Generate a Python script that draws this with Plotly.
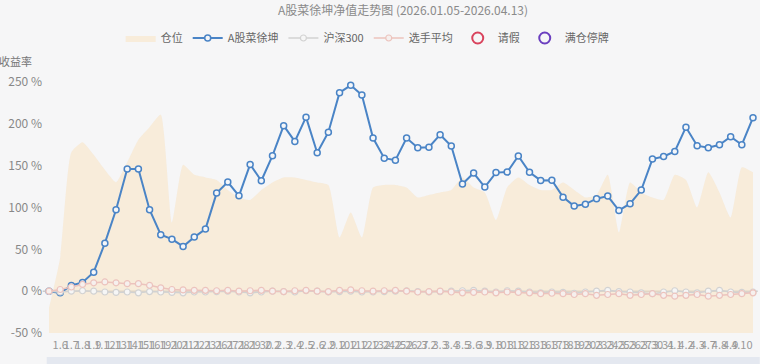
import plotly.graph_objects as go

# ---- data ----
dates = ["1.5", "1.6", "1.7", "1.8", "1.9", "1.12", "1.13", "1.14", "1.15", "1.16",
         "1.19", "1.20", "1.21", "1.22", "1.23", "1.26", "1.27", "1.28", "1.29", "1.30",
         "2.2", "2.3", "2.4", "2.5", "2.6", "2.9", "2.10", "2.11", "2.12", "2.13",
         "2.24", "2.25", "2.26", "2.27",
         "3.2", "3.3", "3.4", "3.5", "3.6", "3.9", "3.10", "3.11", "3.12", "3.13",
         "3.16", "3.17", "3.18", "3.19", "3.20", "3.23", "3.24", "3.25", "3.26", "3.27",
         "3.30", "3.31",
         "4.1", "4.2", "4.3", "4.7", "4.8", "4.9", "4.10", "4.13"]

player = [0, -2, 6.8, 10.4, 22.7, 57.4, 97.3, 146, 146, 97.3,
          67.4, 62.2, 53.5, 64.6, 74.2, 117.2, 130.4, 114, 151.5, 132,
          162, 197.8, 179, 208, 165.5, 190, 237.3, 246, 234.4, 183,
          159, 156.5, 183, 171.5, 172, 187, 173.6, 128, 141.2, 124.4,
          141.7, 142.3, 161.5, 142, 132.4, 132.6, 112.4, 101.7, 104, 110.5,
          113.6, 96.5, 104.5, 120.8, 157.9, 161, 167, 196, 173.9, 171.5,
          175, 184.6, 175, 207.4]

hs300 = [0, -1, 0, 0.5, 0, -1, -1.5, -1, -2, -0.5,
         -1, -1.5, -2, -1, -1, -0.5, 0, -1, -2, -1,
         0, -0.5, -1, 0.5, 0, -1, -0.5, 0, -1, -1,
         -0.5, 0, 0.5, -0.5, -1, -0.5, 0, 0.5, 1, 0,
         -1, 0.5, 0, -1, -2, -1, -1.5, -2.5, -1, 0,
         1, -0.5, -1, -2, -3, -1, 0.5, -1, -2, 0,
         1, -1, -1.5, -1]

avg = [0, 2, 5, 8, 10, 11, 10, 9, 9, 7,
       4, 2, 1.5, 1, 1, 0.5, 1, 0, 0.5, 1,
       0, -0.5, 0.5, 1, 0, -0.5, 1, 1.5, 0.5, 0,
       0.5, 1, 0, -1, -0.5, 0, -1, -2, -1.5, -1,
       -2, -1, -1.5, -2, -3, -2.5, -3, -4, -3, -5,
       -4, -3, -5, -4, -3, -5, -6, -5, -4, -6,
       -5, -4, -3, -2]

position = [10, 30, 72, 76, 71, 65, 60, 68, 77, 82,
            87, 44, 67, 63, 62, 61, 57, 54, 53, 57,
            60, 62, 62, 61, 60, 59, 38, 48, 38, 58,
            59, 59, 58, 54, 55, 56, 57, 62, 58, 56,
            45, 58, 62, 59, 57, 57, 60, 57, 54, 55,
            63, 40, 60, 56, 54, 53, 63, 61, 50, 64,
            56, 46, 66, 64]

leave_x, leave_y = [None], [None]
halt_x, halt_y = [None], [None]

y_ticks = [-50, 0, 50, 100, 150, 200, 250]
y_tick_text = ["-50 %", "0 %", "50 %", "100 %", "150 %", "200 %", "250 %"]

x = list(range(len(dates)))
tick_text = [""] + dates[1:-1] + [""]

BG = "#f6f6f7"

fig = go.Figure()

# position area on the primary (hidden) axis so it sits beneath the return lines
fig.add_trace(go.Scatter(
    x=x, y=position, name="仓位", yaxis="y", mode="lines",
    line=dict(width=0, shape="spline", smoothing=0.5, color="rgba(250,225,190,0.5)"),
    fill="tozeroy", fillcolor="rgba(250,225,190,0.5)", hoverinfo="skip"))

fig.add_trace(go.Scatter(
    x=x, y=player, name="A股菜徐坤", yaxis="y2", mode="lines+markers", cliponaxis=False,
    line=dict(color="#4a84c6", width=2),
    marker=dict(symbol="circle", size=6, color="#f4f6f9",
                line=dict(color="#4a84c6", width=1.5))))

fig.add_trace(go.Scatter(
    x=x, y=hs300, name="沪深300", yaxis="y2", mode="lines+markers", cliponaxis=False,
    line=dict(color="#d2d2d2", width=1.5),
    marker=dict(symbol="circle", size=6, color="#f6f6f6",
                line=dict(color="#d2d2d2", width=1.2))))

fig.add_trace(go.Scatter(
    x=x, y=avg, name="选手平均", yaxis="y2", mode="lines+markers", cliponaxis=False,
    line=dict(color="#ecc3bd", width=1.5),
    marker=dict(symbol="circle", size=6, color="#f6f0ee",
                line=dict(color="#ecc3bd", width=1.2))))

fig.add_trace(go.Scatter(
    x=leave_x, y=leave_y, name="请假", yaxis="y2", mode="markers",
    marker=dict(symbol="circle-open", size=11, color="#d9435d", line=dict(width=2))))

fig.add_trace(go.Scatter(
    x=halt_x, y=halt_y, name="满仓停牌", yaxis="y2", mode="markers",
    marker=dict(symbol="circle-open", size=11, color="#6b3fbf", line=dict(width=2))))

plot_top, plot_bottom = 82, 333
ph = plot_bottom - plot_top
pl, pr = 49.3, 753.3
pw = pr - pl

fig.update_layout(
    width=760, height=364,
    margin=dict(l=49, r=7, t=plot_top, b=364 - plot_bottom),
    paper_bgcolor=BG, plot_bgcolor="rgba(0,0,0,0)",
    font=dict(family="Noto Sans CJK SC, Noto Sans, sans-serif", color="#888"),
    title=dict(text="A股菜徐坤净值走势图 (2026.01.05-2026.04.13)",
               x=403 / 760, xanchor="center", y=1 - 11 / 364, yanchor="middle",
               font=dict(size=12, color="#8a8a8a")),
    showlegend=True,
    legend=dict(orientation="h", x=(368 - pl) / pw, xanchor="center",
                y=1 + (plot_top - 38) / ph, yanchor="middle",
                font=dict(size=11, color="#666"), itemwidth=30,
                bgcolor="rgba(0,0,0,0)", traceorder="normal"),
    xaxis=dict(range=[0, len(dates) - 1], tickmode="array", tickvals=x, ticktext=tick_text,
               tickangle=0, showgrid=False, zeroline=False, showline=False,
               ticks="", ticklabelstandoff=4, tickfont=dict(size=11, color="#999")),
    yaxis=dict(range=[0, 100], visible=False, showgrid=False, zeroline=False),
    yaxis2=dict(range=[-50, 250], overlaying="y", side="left", tickmode="array",
                tickvals=y_ticks, ticktext=y_tick_text,
                showgrid=False, zeroline=False, showline=False, ticks="",
                ticklabelstandoff=6, tickfont=dict(size=12, color="#888")),
    annotations=[dict(text="收益率", xref="paper", yref="paper",
                      x=(34 - pl) / pw, xanchor="right",
                      y=1 + (plot_top - 61) / ph, yanchor="middle",
                      showarrow=False, font=dict(size=11, color="#777"))],
    shapes=[
        dict(type="line", xref="paper", yref="y2", x0=(43 - pl) / pw, x1=(758 - pl) / pw,
             y0=0, y1=0, line=dict(color="#b5b5b5", width=1), layer="below"),
        dict(type="rect", xref="paper", yref="paper", x0=(47 - pl) / pw, x1=(760 - pl) / pw,
             y0=-(364 - plot_bottom) / ph, y1=-(357 - plot_bottom) / ph,
             fillcolor="#e4e8f0", line=dict(width=0), layer="below"),
    ],
)

fig.write_html(
    "out.html",
    config={"displayModeBar": False},
    post_script="document.body.style.margin='0';document.body.style.background='%s';"
                "document.documentElement.style.background='%s';" % (BG, BG),
)
